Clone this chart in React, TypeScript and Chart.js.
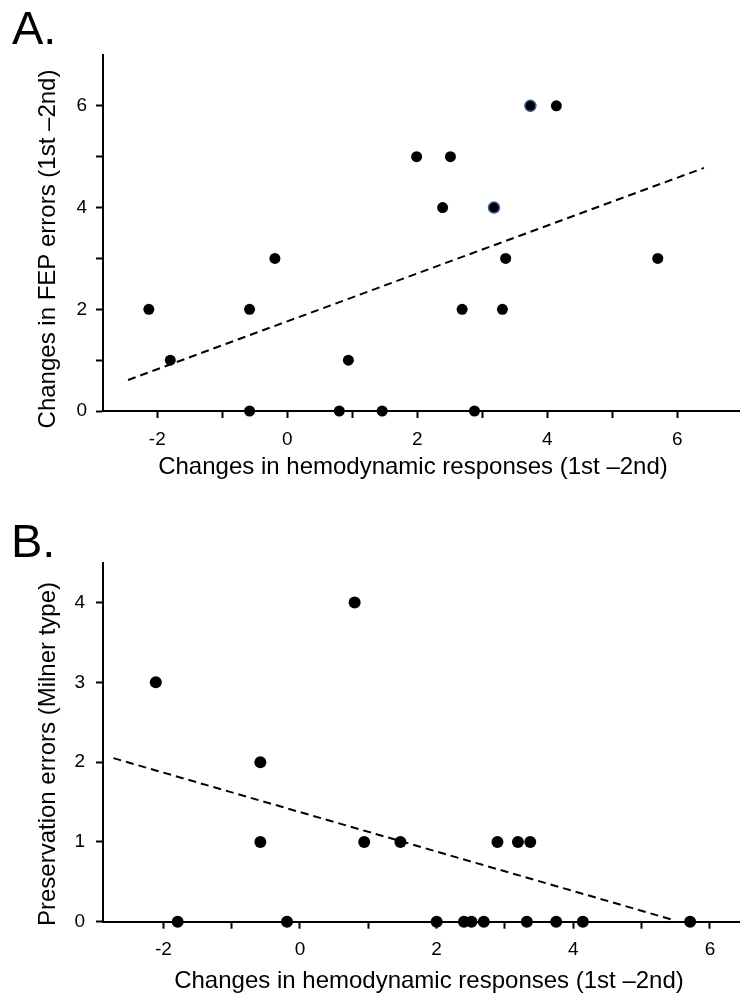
import React, { useEffect, useRef } from "react";
import { Chart, registerables } from "chart.js";

Chart.register(...registerables);

const FONT = "'Liberation Sans', Arial, Helvetica, sans-serif";

// ---------- Panel A data ----------
const aX = [-2.13, -1.8, -0.58, -0.58, -0.19, 0.8, 0.94, 1.46, 2.88, 2.69, 3.31, 3.36, 5.7, 1.99, 2.51, 2.39, 3.18, 3.74, 4.14];
const aY = [2, 1, 2, 0, 3, 0, 1, 0, 0, 2, 2, 3, 3, 5, 5, 4, 4, 6, 6];
const aHighlight = [16, 17];
const aTrendX = [-2.45, 6.41];
const aTrendY = [0.61, 4.78];
const aXTicks = [-2, -1, 0, 1, 2, 3, 4, 5, 6];
const aXTickLabels = ["-2", "", "0", "", "2", "", "4", "", "6"];
const aYTicks = [0, 1, 2, 3, 4, 5, 6];
const aYTickLabels = ["0", "", "2", "", "4", "", "6"];

// ---------- Panel B data ----------
const bX = [-2.11, 0.8, -0.58, -0.58, -1.79, -0.19, 0.94, 1.47, 2.89, 3.19, 3.37, 2.0, 2.4, 2.51, 2.69, 3.32, 3.75, 4.14, 5.71];
const bY = [3, 4, 2, 1, 0, 0, 1, 1, 1, 1, 1, 0, 0, 0, 0, 0, 0, 0, 0];
const bHighlight: number[] = [];
const bTrendX = [-2.73, 5.47];
const bTrendY = [2.05, 0.02];
const bXTicks = [-2, -1, 0, 1, 2, 3, 4, 5, 6];
const bXTickLabels = ["-2", "", "0", "", "2", "", "4", "", "6"];
const bYTicks = [0, 1, 2, 3, 4];
const bYTickLabels = ["0", "1", "2", "3", "4"];

const X_TITLE = "Changes in hemodynamic responses (1st \u20132nd)";

type TextItem = { text: string; x: number; y: number; size: number; align: CanvasTextAlign; rot?: number };

type PanelCfg = {
  xs: number[];
  ys: number[];
  highlight: number[];
  trendX: number[];
  trendY: number[];
  xTicks: number[];
  xTickLabels: string[];
  yTicks: number[];
  yTickLabels: string[];
  xMin: number;
  xMax: number;
  yMin: number;
  yMax: number;
  areaTop: number;
  yAxisW: number;
  xAxisH: number;
  radius: number;
  yPad: number;
  texts: TextItem[];
};

const panelA: PanelCfg = {
  xs: aX,
  ys: aY,
  highlight: aHighlight,
  trendX: aTrendX,
  trendY: aTrendY,
  xTicks: aXTicks,
  xTickLabels: aXTickLabels,
  yTicks: aYTicks,
  yTickLabels: aYTickLabels,
  xMin: -2.835,
  xMax: 6.965,
  yMin: 0,
  yMax: 7,
  areaTop: 55,
  yAxisW: 103,
  xAxisH: 89,
  radius: 5.5,
  yPad: 9,
  texts: [
    { text: "A.", x: 12, y: 44, size: 47, align: "left" },
    { text: X_TITLE, x: 413, y: 474, size: 24, align: "center" },
    { text: "Changes in FEP errors (1st \u20132nd)", x: 55, y: 249, size: 24, align: "center", rot: -Math.PI / 2 },
  ],
};

const panelB: PanelCfg = {
  xs: bX,
  ys: bY,
  highlight: bHighlight,
  trendX: bTrendX,
  trendY: bTrendY,
  xTicks: bXTicks,
  xTickLabels: bXTickLabels,
  yTicks: bYTicks,
  yTickLabels: bYTickLabels,
  xMin: -2.883,
  xMax: 6.44,
  yMin: 0,
  yMax: 4.5,
  areaTop: 62.7,
  yAxisW: 103,
  xAxisH: 78.3,
  radius: 6,
  yPad: 11,
  texts: [
    { text: "B.", x: 11, y: 56.7, size: 47, align: "left" },
    { text: X_TITLE, x: 429, y: 488, size: 24, align: "center" },
    { text: "Preservation errors (Milner type)", x: 55, y: 254, size: 24, align: "center", rot: -Math.PI / 2 },
  ],
};

function Panel({ cfg, top }: { cfg: PanelCfg; top: number }) {
  const ref = useRef<HTMLCanvasElement | null>(null);

  useEffect(() => {
    if (!ref.current) return;
    const textPlugin = {
      id: "panelTexts",
      afterDraw(chart: any) {
        const ctx = chart.ctx as CanvasRenderingContext2D;
        cfg.texts.forEach((t) => {
          ctx.save();
          ctx.fillStyle = "#000";
          ctx.font = `${t.size}px ${FONT}`;
          ctx.textAlign = t.align;
          ctx.textBaseline = "alphabetic";
          ctx.translate(t.x, t.y);
          if (t.rot) ctx.rotate(t.rot);
          ctx.fillText(t.text, 0, 0);
          ctx.restore();
        });
      },
    };

    const axisCommon = {
      type: "linear" as const,
      border: { display: true, color: "#000", width: 2 },
      grid: {
        drawOnChartArea: false,
        drawTicks: true,
        tickLength: 7,
        tickWidth: 2,
        tickColor: "#000",
      },
    };

    const chart = new Chart(ref.current, {
      type: "scatter",
      data: {
        datasets: [
          {
            data: cfg.xs.map((x, i) => ({ x, y: cfg.ys[i] })),
            backgroundColor: "#000",
            borderColor: (c: any) => (cfg.highlight.includes(c.dataIndex) ? "#3a5c92" : "#000"),
            borderWidth: (c: any) => (cfg.highlight.includes(c.dataIndex) ? 1.5 : 0),
            pointRadius: cfg.radius,
            clip: false,
          } as any,
          {
            data: cfg.trendX.map((x, i) => ({ x, y: cfg.trendY[i] })),
            showLine: true,
            borderColor: "#000",
            borderWidth: 2,
            borderDash: [8, 5],
            pointRadius: 0,
            fill: false,
            clip: false,
          } as any,
        ],
      },
      options: {
        animation: false,
        responsive: false,
        events: [],
        layout: { autoPadding: false, padding: { top: cfg.areaTop, left: 0, right: 0, bottom: 0 } },
        plugins: {
          legend: { display: false },
          tooltip: { enabled: false },
          title: { display: false },
        },
        scales: {
          x: {
            ...axisCommon,
            min: cfg.xMin,
            max: cfg.xMax,
            afterFit: (s: any) => {
              s.height = cfg.xAxisH;
              s.paddingLeft = 0;
              s.paddingRight = 0;
            },
            afterBuildTicks: (s: any) => {
              s.ticks = cfg.xTicks.map((v) => ({ value: v }));
            },
            ticks: {
              autoSkip: false,
              maxRotation: 0,
              minRotation: 0,
              padding: 10,
              color: "#000",
              font: { family: FONT, size: 19 },
              callback: (v: any) => {
                const i = cfg.xTicks.indexOf(Number(v));
                return i >= 0 ? cfg.xTickLabels[i] : "";
              },
            },
          },
          y: {
            ...axisCommon,
            min: cfg.yMin,
            max: cfg.yMax,
            afterFit: (s: any) => {
              s.width = cfg.yAxisW;
              s.paddingTop = 0;
              s.paddingBottom = 0;
            },
            afterBuildTicks: (s: any) => {
              s.ticks = cfg.yTicks.map((v) => ({ value: v }));
            },
            ticks: {
              autoSkip: false,
              padding: cfg.yPad,
              color: "#000",
              font: { family: FONT, size: 19 },
              callback: (v: any) => {
                const i = cfg.yTicks.indexOf(Number(v));
                return i >= 0 ? cfg.yTickLabels[i] : "";
              },
            },
          },
        },
      } as any,
      plugins: [textPlugin],
    });
    return () => chart.destroy();
  }, [cfg]);

  return (
    <div style={{ position: "absolute", left: 0, top, width: 740, height: 500 }}>
      <canvas ref={ref} width={740} height={500} style={{ display: "block" }} />
    </div>
  );
}

export default function App() {
  return (
    <div style={{ position: "absolute", left: 0, top: 0, width: 740, height: 1000, background: "#fff" }}>
      <Panel cfg={panelA} top={0} />
      <Panel cfg={panelB} top={500} />
    </div>
  );
}
